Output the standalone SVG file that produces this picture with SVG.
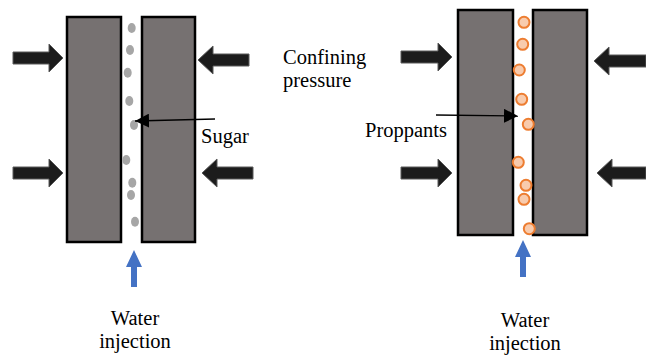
<svg xmlns="http://www.w3.org/2000/svg" width="646" height="356" viewBox="0 0 646 356">
<style>
.rock{fill:#767171;stroke:#000;stroke-width:2.5}
.press{fill:#1c1c1c;stroke:#5a5a5a;stroke-width:1}
.inj{fill:#4472C4}
.sugar{fill:#a6a6a6}
.prop{fill:#F8CBAD;stroke:#ED7D31;stroke-width:2}
.lbl{font-family:"Liberation Serif","Times New Roman",serif;font-size:20.5px;fill:#000}
.ptr{stroke:#000;stroke-width:1.3;fill:none}
</style>
<defs>
<marker id="ah" viewBox="0 0 14 14" refX="14" refY="7" markerWidth="14" markerHeight="14" markerUnits="userSpaceOnUse" orient="auto">
<path d="M0,0 L14,7 L0,14 Z" fill="#000"/>
</marker>
</defs>
<rect width="646" height="356" fill="#fff"/>

<g id="left-panel">
<rect class="rock" x="67" y="17" width="54" height="225"/>
<rect class="rock" x="142" y="17" width="53" height="225"/>
<g id="sugar-particles">
<ellipse class="sugar" cx="131.7" cy="28" rx="4" ry="5"/>
<ellipse class="sugar" cx="130" cy="50" rx="4" ry="5"/>
<ellipse class="sugar" cx="127.7" cy="72.7" rx="4" ry="5"/>
<ellipse class="sugar" cx="129.3" cy="101" rx="4" ry="5"/>
<ellipse class="sugar" cx="134" cy="125" rx="4" ry="5"/>
<ellipse class="sugar" cx="126.3" cy="160" rx="4" ry="5"/>
<ellipse class="sugar" cx="132.3" cy="182.7" rx="4" ry="5"/>
<ellipse class="sugar" cx="131" cy="195" rx="4" ry="5"/>
<ellipse class="sugar" cx="135" cy="221.7" rx="4" ry="5"/>
</g>
<polygon class="press" points="13,52 49,52 49,44 63,58 49,72 49,64 13,64"/>
<polygon class="press" points="13,167 49,167 49,159 63,173 49,187 49,179 13,179"/>
<polygon class="press" points="198,60 213,46 213,54 249,54 249,66 213,66 213,74"/>
<polygon class="press" points="202,173 217,159 217,167 253,167 253,179 217,179 217,187"/>
<polygon class="inj" points="134,250 142,267 137,267 137,287 131,287 131,267 126,267"/>
<text class="lbl" x="201" y="143">Sugar</text>
<text class="lbl" x="135" y="325" text-anchor="middle">Water</text>
<text class="lbl" x="135" y="348" text-anchor="middle">injection</text>
</g>

<g id="confining-label">
<text class="lbl" x="283" y="64">Confining</text>
<text class="lbl" x="283" y="87">pressure</text>
</g>

<g id="right-panel">
<rect class="rock" x="458" y="10" width="55" height="225"/>
<rect class="rock" x="533" y="10" width="54" height="225"/>
<g id="proppant-particles">
<circle class="prop" cx="524" cy="22.3" r="5.5"/>
<circle class="prop" cx="522.7" cy="44.3" r="5.5"/>
<circle class="prop" cx="519.3" cy="70" r="5.5"/>
<circle class="prop" cx="521.7" cy="99.3" r="5.5"/>
<circle class="prop" cx="528.3" cy="124.3" r="5.5"/>
<circle class="prop" cx="518.3" cy="162.3" r="5.5"/>
<circle class="prop" cx="526" cy="185.3" r="5.5"/>
<circle class="prop" cx="524" cy="199.3" r="5.5"/>
<circle class="prop" cx="529.3" cy="228.7" r="5.5"/>
</g>
<polygon class="press" points="401,51 438,51 438,43 452,57 438,71 438,63 401,63"/>
<polygon class="press" points="401,167 438,167 438,159 452,173 438,187 438,179 401,179"/>
<polygon class="press" points="594,61 609,47 609,55 646,55 646,67 609,67 609,75"/>
<polygon class="press" points="597,173 612,159 612,167 646,167 646,179 612,179 612,187"/>
<polygon class="inj" points="523,240 531,257 526,257 526,277 520,277 520,257 515,257"/>
<text class="lbl" x="365" y="137">Proppants</text>
<text class="lbl" x="525" y="327" text-anchor="middle">Water</text>
<text class="lbl" x="525" y="350" text-anchor="middle">injection</text>
</g>

<g id="connectors">
<line class="ptr" x1="215" y1="119" x2="135" y2="121" marker-end="url(#ah)"/>
<line class="ptr" x1="436" y1="115" x2="518" y2="116" marker-end="url(#ah)"/>
</g>
</svg>
